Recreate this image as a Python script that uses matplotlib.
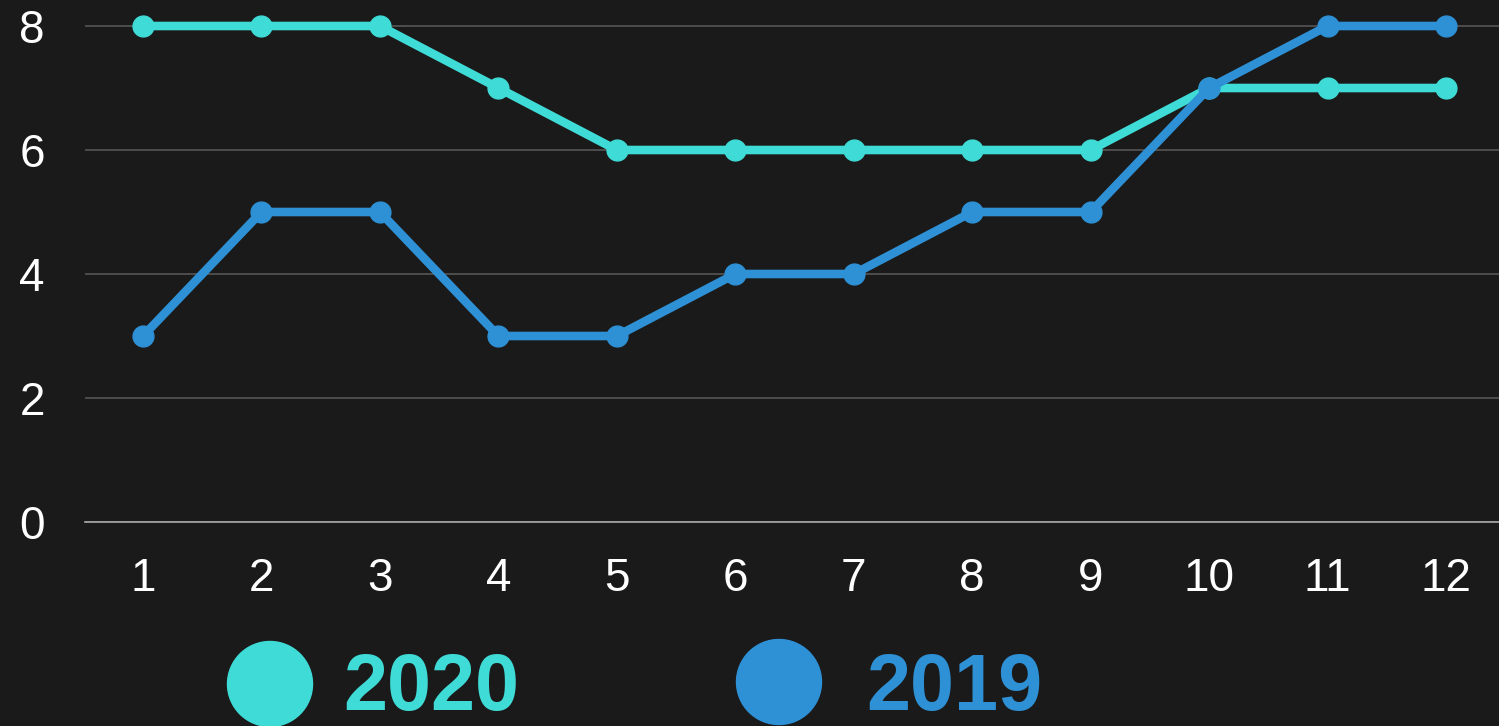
import matplotlib.pyplot as plt
import matplotlib.patches as mpatches

# data
months = [1, 2, 3, 4, 5, 6, 7, 8, 9, 10, 11, 12]
values_2020 = [8, 8, 8, 7, 6, 6, 6, 6, 6, 7, 7, 7]
values_2019 = [3, 5, 5, 3, 3, 4, 4, 5, 5, 7, 8, 8]
yticks = [0, 2, 4, 6, 8]

bg = '#1a1a1a'
c2020 = '#3fdbd6'
c2019 = '#2e90d5'

plt.rcParams['font.family'] = ['Liberation Sans', 'DejaVu Sans']

fig = plt.figure(figsize=(14.99, 7.26), dpi=100)
fig.patch.set_facecolor(bg)

# plot area in pixel terms: left 85, bottom 522, top 0
ax = fig.add_axes([85 / 1499, (726 - 522) / 726, 1 - 85 / 1499, 522 / 726])
ax.set_facecolor(bg)

ax.plot(months, values_2020, color=c2020, lw=6.2, marker='o', ms=15, zorder=3, clip_on=False)
ax.plot(months, values_2019, color=c2019, lw=6.2, marker='o', ms=15, zorder=4, clip_on=False)

ax.set_xlim(1 - 58 / 118.5, 12 + 53 / 118.5)
ax.set_ylim(0, 8 + 26 / 62)
ax.set_xticks(months)
ax.set_yticks(yticks)
ax.grid(axis='y', color='#555555', lw=1.2)
ax.set_axisbelow(True)
for s in ['top', 'right', 'left']:
    ax.spines[s].set_visible(False)
ax.spines['bottom'].set_color('#aaaaaa')
ax.spines['bottom'].set_linewidth(1.2)
ax.tick_params(axis='both', length=0, labelsize=33, colors='white')
ax.tick_params(axis='y', pad=29)
ax.tick_params(axis='x', pad=25)

# legend drawn in pixel coordinates
lax = fig.add_axes([0, 0, 1, 1])
lax.set_xlim(0, 1499)
lax.set_ylim(726, 0)
lax.axis('off')
lax.patch.set_alpha(0)
lax.add_patch(mpatches.Circle((270, 684), 42.5, color=c2020))
lax.add_patch(mpatches.Circle((779, 682), 42.5, color=c2019))
lax.text(343, 710, '2020', color=c2020, fontsize=57, fontweight='bold', va='baseline')
lax.text(866, 710, '2019', color=c2019, fontsize=57, fontweight='bold', va='baseline')

fig.savefig('out.png', dpi=100, facecolor=bg)
